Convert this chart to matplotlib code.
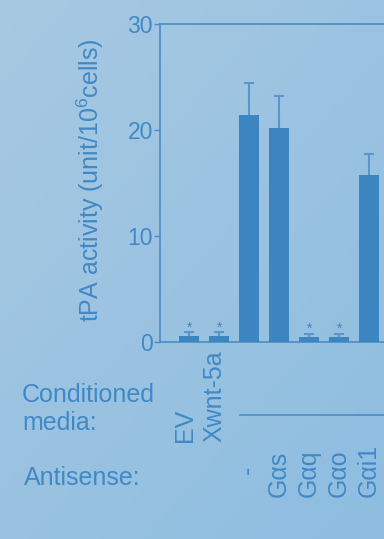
import numpy as np
import matplotlib
matplotlib.use('Agg')
import matplotlib.pyplot as plt
import matplotlib.transforms as mtransforms

plt.rcParams['font.family'] = ['Liberation Sans', 'DejaVu Sans']
plt.rcParams['mathtext.fontset'] = 'custom'
plt.rcParams['mathtext.rm'] = 'Liberation Sans'
plt.rcParams['mathtext.it'] = 'Liberation Sans:italic'
plt.rcParams['mathtext.bf'] = 'Liberation Sans:bold'

# ---- data ----
conditioned = ['EV', 'Xwnt-5a']
antisense = ['-', 'Gαs', 'Gαq', 'Gαo', 'Gαi1']
values = [0.6, 0.6, 21.4, 20.2, 0.45, 0.45, 15.8]
errors = [0.3, 0.3, 3.0, 3.0, 0.3, 0.3, 1.9]
starred = [True, True, False, False, True, True, False]
yticks = [0, 10, 20, 30]
ylabel = r'tPA activity (unit/10$^{6}$cells)'

W, H = 384, 539
fig = plt.figure(figsize=(W / 100, H / 100), dpi=100)

# background gradient
bg = fig.add_axes([0, 0, 1, 1], zorder=-5)
yy, xx = np.mgrid[0:1:200j, 0:1:200j]
t = np.clip(0.45 * xx + 0.55 * yy, 0, 1)
c0 = np.array([0xa7, 0xc9, 0xe2]) / 255
c1 = np.array([0x8e, 0xbd, 0xe0]) / 255
img = c0[None, None, :] * (1 - t[..., None]) + c1[None, None, :] * t[..., None]
bg.imshow(img, extent=[0, 1, 0, 1], aspect='auto', origin='upper')
bg.axis('off')

line_c = '#4a8cc6'
bar_c = '#3d85c1'
err_c = '#5896cb'
text_c = '#4089c6'
FS = 18


def fx(px):
    return px / W


def fy(py):
    return 1 - py / H


ax = fig.add_axes([fx(160), fy(342), 329 / W, 318 / H])
ax.patch.set_alpha(0)
x = np.arange(len(values))
ax.bar(x, values, width=0.64, color=bar_c, zorder=3)
tops = [v + e for v, e in zip(values, errors)]
ax.vlines(x, values, tops, color=err_c, lw=1.5, zorder=2)
ax.plot(x, tops, linestyle='none', marker='_', markersize=7,
        markeredgewidth=1.5, color=err_c, zorder=2)
for xi, top, s in zip(x, tops, starred):
    if s:
        ax.text(xi, top + 0.45, '*', color=bar_c, fontsize=10,
                ha='center', va='center', zorder=4)

ax.set_xlim(-0.97, 10)
ax.set_ylim(0, 30)
ax.set_yticks(yticks)
ax.set_yticklabels([str(v) for v in yticks])
ax.set_xticks([])
ax.tick_params(axis='y', direction='out', length=4, width=1, color=line_c,
               labelcolor=text_c, labelsize=16.5, pad=1)
for side in ['left', 'top', 'bottom']:
    ax.spines[side].set_color(line_c)
    ax.spines[side].set_linewidth(1.2)
ax.spines['right'].set_visible(False)

fig.text(fx(90), fy(180), ylabel, rotation=90, ha='center', va='center',
         color=text_c, fontsize=18)

# lower annotation
tr = mtransforms.blended_transform_factory(ax.transData, fig.transFigure)
fig.text(fx(22), fy(395), 'Conditioned', ha='left', va='center',
         color=text_c, fontsize=FS)
fig.text(fx(22), fy(423), 'media:', ha='left', va='center',
         color=text_c, fontsize=FS)
fig.text(fx(24), fy(478), 'Antisense:', ha='left', va='center',
         color=text_c, fontsize=FS)

for i, lab in enumerate(conditioned):
    fig.text(i - 0.15, fy(442), lab, transform=tr, rotation=90,
             ha='center', va='bottom', color=text_c, fontsize=FS)

line_y = fy(415)
fig.add_artist(plt.Line2D([fx(240), 1.0], [line_y, line_y], color=line_c,
                          lw=1.2))

for j, lab in enumerate(antisense):
    xi = 2 + j
    if lab == '-':
        fig.text(xi - 0.05, fy(470), lab, transform=tr, rotation=90,
                 ha='center', va='center', color=text_c, fontsize=FS)
    else:
        fig.text(xi, fy(497), lab, transform=tr, rotation=90,
                 ha='center', va='bottom', color=text_c, fontsize=FS)

fig.savefig('out.png', dpi=100)
